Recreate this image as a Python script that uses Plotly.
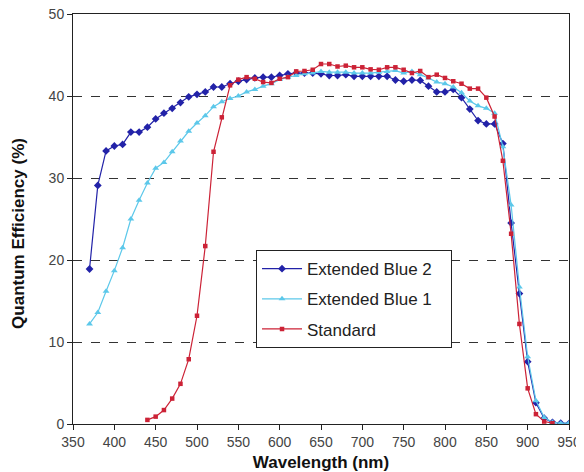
import plotly.graph_objects as go

# Wavelengths (nm)
wl_eb2 = list(range(370, 951, 10))
wl_eb1 = list(range(370, 951, 10))
wl_std = list(range(440, 931, 10))

# Quantum efficiency (%)
qe_eb2 = [18.9, 29.1, 33.3, 33.9, 34.1, 35.6, 35.6, 36.2, 37.2, 37.9,
          38.5, 39.2, 39.9, 40.2, 40.5, 41.1, 41.1, 41.5, 41.8, 42.0,
          42.2, 42.3, 42.3, 42.5, 42.7, 42.8, 42.8, 42.8, 42.7, 42.5,
          42.5, 42.6, 42.4, 42.4, 42.4, 42.4, 42.4, 41.95, 41.8, 41.95,
          41.9, 41.2, 40.5, 40.5, 40.8, 39.8, 38.4, 37.0, 36.6, 36.6,
          34.2, 24.5, 15.9, 7.6, 2.6, 0.7, 0.2, 0.1, 0.05]
qe_eb1 = [12.2, 13.6, 16.2, 18.7, 21.5, 25.0, 27.3, 29.4, 31.2, 31.9,
          33.2, 34.5, 35.7, 36.7, 37.6, 38.7, 39.3, 39.7, 40.0, 40.5,
          40.8, 41.2, 41.5, 42.0, 42.3, 42.5, 42.7, 42.8, 43.0, 42.9,
          42.9, 42.9, 42.8, 42.8, 42.8, 42.9, 43.0, 43.1, 42.8, 43.0,
          42.6, 42.2, 41.7, 41.5, 41.1, 40.4, 39.4, 38.8, 38.5, 37.9,
          33.8, 26.7, 16.7, 8.2, 2.85, 0.8, 0.2, 0.1, 0.1]
qe_std = [0.5, 0.9, 1.7, 3.1, 4.9, 7.9, 13.2, 21.7, 33.2, 37.4,
          41.3, 42.0, 42.3, 42.1, 41.7, 41.6, 42.1, 42.3, 43.0, 43.05,
          43.2, 43.9, 43.9, 43.6, 43.7, 43.5, 43.5, 43.25, 43.2, 43.5,
          43.5, 43.2, 42.8, 43.05, 42.3, 42.6, 42.2, 41.8, 41.5, 40.9,
          40.9, 39.8, 37.5, 32.1, 23.2, 12.2, 4.35, 1.2, 0.3, 0.1]

names = ["Extended Blue 2", "Extended Blue 1", "Standard"]
x_ticks = list(range(350, 951, 50))
y_ticks = list(range(0, 51, 10))

PAD = "\u00a0\u00a0\u00a0"  # visual right padding inside the legend box

fig = go.Figure()
fig.add_trace(go.Scatter(x=wl_eb2, y=qe_eb2, name=names[0] + PAD, mode="lines+markers",
                         legendgroup="a",
                         line=dict(color="#2222a8", width=1.2),
                         marker=dict(symbol="diamond", size=6, color="#2222a8")))
fig.add_trace(go.Scatter(x=wl_eb1, y=qe_eb1, name=names[1] + PAD, mode="lines+markers",
                         legendgroup="b",
                         line=dict(color="#5cc8ea", width=1.2),
                         marker=dict(symbol="triangle-up", size=6, color="#5cc8ea")))
fig.add_trace(go.Scatter(x=wl_std, y=qe_std, name=names[2] + PAD, mode="lines+markers",
                         legendgroup="c",
                         line=dict(color="#cc2236", width=1.2),
                         marker=dict(symbol="square", size=4.5, color="#cc2236")))

# the page body has an 8px margin; the figure is sized to fill the rest
fig.update_layout(
    width=576, height=464,
    margin=dict(l=65, r=15, t=6, b=48, autoexpand=False),
    paper_bgcolor="white", plot_bgcolor="white",
    font=dict(family="Liberation Sans, Arial, sans-serif", color="#333333"),
    showlegend=True,
    legend=dict(x=0.369, y=0.424, xanchor="left", yanchor="top",
                bgcolor="white", bordercolor="#222222", borderwidth=1,
                font=dict(size=17, color="#222222"),
                tracegroupgap=5, itemwidth=40),
    xaxis=dict(range=[350, 950], tickvals=x_ticks, ticks="outside", ticklen=5,
               tickcolor="#222222", showline=True, linecolor="#222222", linewidth=1,
               mirror=True, showgrid=False, zeroline=False, automargin=False,
               ticklabeloverflow="allow",
               tickfont=dict(size=14, color="#444444"),
               title=dict(text="<b>Wavelength (nm)</b>", font=dict(size=17, color="#111111"),
                          standoff=10)),
    yaxis=dict(range=[0, 50], tickvals=y_ticks, ticks="outside", ticklen=5,
               tickcolor="#222222", showline=True, linecolor="#222222", linewidth=1,
               mirror=True, showgrid=True, gridcolor="#333333", griddash="dash",
               gridwidth=1, zeroline=False, automargin=False,
               ticklabeloverflow="allow",
               tickfont=dict(size=14, color="#444444")),
    annotations=[dict(text="<b>Quantum Efficiency (%)</b>", textangle=-90,
                      xref="paper", yref="paper", x=-0.109, y=0.466,
                      xanchor="center", yanchor="middle", showarrow=False,
                      font=dict(size=17, color="#111111"))],
)

fig.write_html("out.html")
